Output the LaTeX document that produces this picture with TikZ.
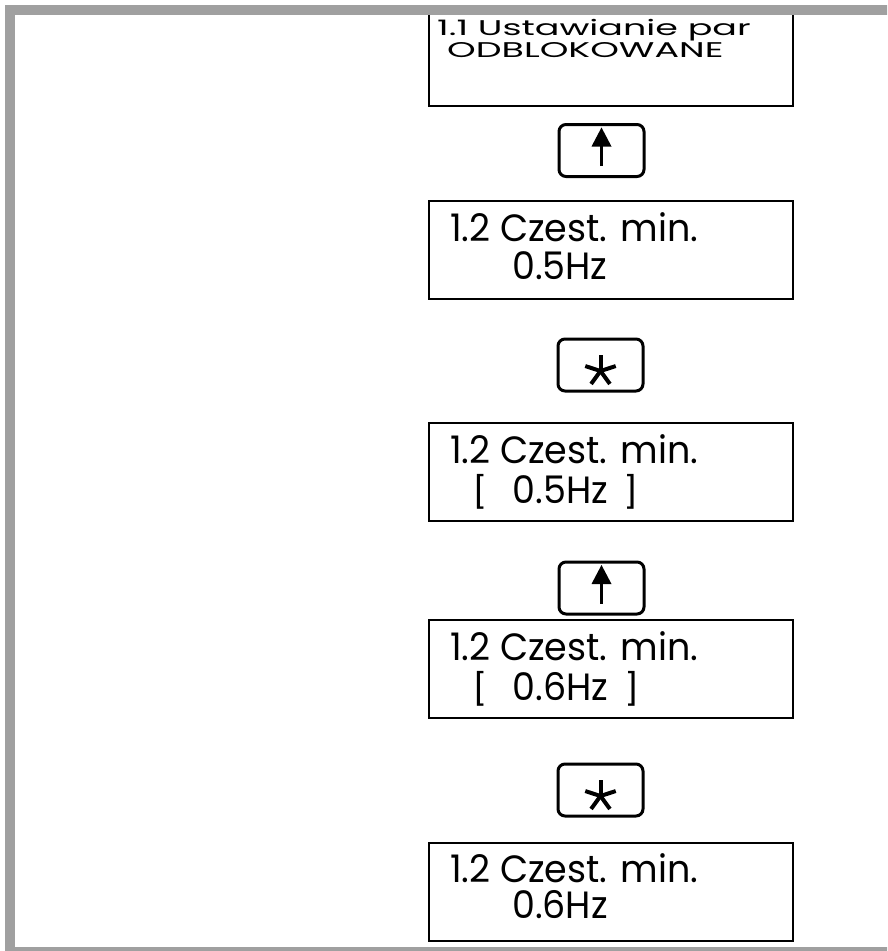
\documentclass[tikz,border=0pt]{standalone}
\usepackage{fontspec}
\newfontfamily\lcdfont{Poppins}[FakeStretch=0.96]
\definecolor{framegray}{RGB}{160,160,160}
\newcommand{\brk}[1]{\scalebox{1}[0.82]{#1}}
\tikzset{
    display/.style={draw, line width=2.5pt, minimum width=364pt, minimum height=98pt, inner sep=0pt},
    keybox/.style={draw, line width=3pt, rounded corners=7pt, minimum width=85pt, minimum height=52pt, inner sep=0pt},
    lcd/.style={anchor=base west, inner sep=0pt, font=\lcdfont\fontsize{38}{42}\selectfont},
    stararm/.style={line width=4pt},
}
\begin{document}
\begin{tikzpicture}[x=1pt,y=-1pt]
        \clip (0,0) rectangle (887,951);
        % Displays
            \node[display, minimum height=94pt] (d1) at (611,59) {};
            \node[display] (d2) at (611,250) {};
            \node[display] (d3) at (611,472) {};
            \node[display] (d4) at (611,669) {};
            \node[display] (d5) at (611,892) {};
        % Display texts
            \node[lcd] (d1a) at (437,35.5) {\scalebox{1}[0.56]{1.1 Ustawianie par}};
            \node[lcd] (d1b) at (447,57.5) {\scalebox{1}[0.56]{ODBLOKOWANE}};
            \node[lcd] (d2a) at (450,241) {1.2 Czest. min.};
            \node[lcd] (d2b) at (512,279) {0.5Hz};
            \node[lcd] (d3a) at (450,463) {1.2 Czest. min.};
            \node[lcd] (d3b) at (472,503) {\brk{[}\hspace{25pt}0.5Hz\hspace{16pt}\brk{]}};
            \node[lcd] (d4a) at (450,660) {1.2 Czest. min.};
            \node[lcd] (d4b) at (472,700) {\brk{[}\hspace{25pt}0.6Hz\hspace{16pt}\brk{]}};
            \node[lcd] (d5a) at (450,882) {1.2 Czest. min.};
            \node[lcd] (d5b) at (512,918) {0.6Hz};
        % Keys
            \node[keybox] (k1) at (601.5,150.5) {};
            \node[keybox] (k2) at (600.5,365) {};
            \node[keybox] (k3) at (601.5,588) {};
            \node[keybox] (k4) at (600.5,790) {};
            \foreach \k in {k1,k3} {
                \draw[line width=2.5pt] ([yshift=-15.5pt]\k.center) -- ([yshift=5pt]\k.center);
                \fill ([yshift=23pt]\k.center) -- ++(-10pt,-19pt) -- ++(20pt,0pt) -- cycle;
            }
            \foreach \k in {k2,k4}
                \foreach \a in {90,162,234,306,18}
                    \draw[stararm] ([yshift=-6pt]\k.center) -- ++(\a:16pt);
        % Frame
            \draw[framegray, line width=10pt] (10,10) rectangle (900,952);
        \end{tikzpicture}
\end{document}
